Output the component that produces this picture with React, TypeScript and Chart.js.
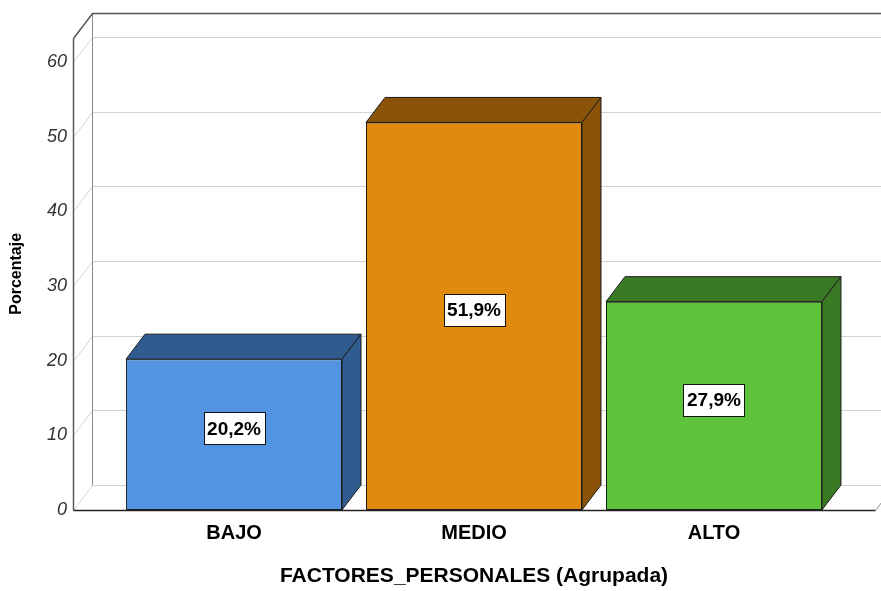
import React, { useEffect, useRef } from 'react';
import { Chart, registerables } from 'chart.js';

Chart.register(...registerables);

const categories = ['BAJO', 'MEDIO', 'ALTO'];
const percentages = [20.2, 51.9, 27.9];
const valueLabels = ['20,2%', '51,9%', '27,9%'];
const yTicks = [0, 10, 20, 30, 40, 50, 60];
const frontColors = ['#5294E2', '#E08A0E', '#5EC23A'];
const sideColors = ['#2F5B8F', '#8B5307', '#3A7A24'];
const xTitle = 'FACTORES_PERSONALES (Agrupada)';
const yTitle = 'Porcentaje';

const DX = 19;
const DY = -25;
const FONT = '"Liberation Sans", Arial, sans-serif';

const threeD = {
  id: 'threeD',
  beforeDatasetsDraw(chart: any) {
    const { ctx, chartArea } = chart;
    const { left, right, top, bottom } = chartArea;
    const y = chart.scales.y;
    const L = Math.round(left) + 0.5;
    const R = Math.round(right) + 0.5;
    const T = Math.round(top) + 0.5;
    const B = Math.round(bottom) + 0.5;
    ctx.save();
    ctx.lineWidth = 1;
    ctx.strokeStyle = '#d2d2d2';
    yTicks.forEach((v) => {
      const py = Math.round(y.getPixelForValue(v)) + 0.5;
      ctx.beginPath();
      ctx.moveTo(L, py);
      ctx.lineTo(L + DX, py + DY);
      ctx.lineTo(R + DX, py + DY);
      ctx.stroke();
    });
    ctx.strokeStyle = '#8a8a8a';
    ctx.beginPath();
    ctx.moveTo(R, B);
    ctx.lineTo(R + DX, B + DY);
    ctx.stroke();
    ctx.beginPath();
    ctx.moveTo(L + DX, T + DY);
    ctx.lineTo(L + DX, B + DY);
    ctx.stroke();
    ctx.strokeStyle = '#555555';
    ctx.lineWidth = 1.5;
    ctx.beginPath();
    ctx.moveTo(L, T);
    ctx.lineTo(L + DX, T + DY);
    ctx.lineTo(R + DX + 40, T + DY);
    ctx.stroke();
    ctx.strokeStyle = '#5a5a5a';
    ctx.beginPath();
    ctx.moveTo(L, T);
    ctx.lineTo(L, B);
    ctx.stroke();
    ctx.strokeStyle = '#222222';
    ctx.beginPath();
    ctx.moveTo(L, B);
    ctx.lineTo(R, B);
    ctx.stroke();
    ctx.restore();
  },
  afterDatasetsDraw(chart: any) {
    const { ctx } = chart;
    const meta = chart.getDatasetMeta(0);
    ctx.save();
    meta.data.forEach((el: any, i: number) => {
      const { x, y, base, width } = el.getProps(['x', 'y', 'base', 'width'], true);
      const l = x - width / 2;
      const r = x + width / 2;
      ctx.lineWidth = 1;
      ctx.strokeStyle = '#1a1a1a';
      ctx.fillStyle = sideColors[i];
      ctx.beginPath();
      ctx.moveTo(l, y);
      ctx.lineTo(l + DX, y + DY);
      ctx.lineTo(r + DX, y + DY);
      ctx.lineTo(r, y);
      ctx.closePath();
      ctx.fill();
      ctx.stroke();
      ctx.beginPath();
      ctx.moveTo(r, y);
      ctx.lineTo(r + DX, y + DY);
      ctx.lineTo(r + DX, base + DY);
      ctx.lineTo(r, base);
      ctx.closePath();
      ctx.fill();
      ctx.stroke();
      ctx.font = `bold 19px ${FONT}`;
      const text = valueLabels[i];
      const tw = ctx.measureText(text).width;
      const bw = Math.round(tw + 7);
      const bh = 32;
      const cx = x;
      const cy = (y + base) / 2 + DY / 4;
      const bx = Math.round(cx - bw / 2) + 0.5;
      const by = Math.round(cy - bh / 2) + 0.5;
      ctx.fillStyle = '#ffffff';
      ctx.fillRect(bx, by, bw, bh);
      ctx.strokeStyle = '#111111';
      ctx.strokeRect(bx, by, bw, bh);
      ctx.fillStyle = '#000000';
      ctx.textAlign = 'center';
      ctx.textBaseline = 'middle';
      ctx.fillText(text, cx, cy + 1);
    });
    ctx.restore();
  },
};

export default function App() {
  const ref = useRef<HTMLCanvasElement | null>(null);
  useEffect(() => {
    if (!ref.current) return;
    const chart = new Chart(ref.current, {
      type: 'bar',
      data: {
        datasets: [
          {
            data: categories.map((c, i) => ({ x: i, y: percentages[i] })),
            backgroundColor: frontColors,
            borderColor: '#1a1a1a',
            borderWidth: 1,
            borderSkipped: false,
            barPercentage: 0.9,
            categoryPercentage: 1,
          } as any,
        ],
      },
      options: {
        animation: false,
        responsive: false,
        devicePixelRatio: 1,
        layout: { padding: { left: 0, right: 6, top: 37.7, bottom: 0 } },
        plugins: { legend: { display: false }, tooltip: { enabled: false } },
        scales: {
          x: {
            type: 'linear',
            offset: false,
            min: -0.671,
            max: 2.671,
            grid: { display: false, drawTicks: false, offset: false },
            border: { display: false },
            afterBuildTicks: (s: any) => {
              s.ticks = categories.map((_, i) => ({ value: i }));
            },
            afterFit: (s: any) => {
              s.height = 81;
            },
            ticks: {
              padding: 11,
              autoSkip: false,
              maxRotation: 0,
              color: '#000',
              font: { family: FONT, size: 20, weight: 'bold' },
              callback: (v: any) => categories[v] ?? '',
            },
            title: {
              display: true,
              text: xTitle,
              color: '#000',
              font: { family: FONT, size: 21, weight: 'bold' },
              padding: { top: 0, bottom: 2 },
            },
          },
          y: {
            min: 0,
            max: 63.25,
            grid: { display: false, drawTicks: false },
            border: { display: false },
            afterBuildTicks: (s: any) => {
              s.ticks = yTicks.map((v) => ({ value: v }));
            },
            afterFit: (s: any) => {
              s.width = 73;
            },
            ticks: {
              padding: 6,
              color: '#333',
              font: { family: FONT, size: 18, style: 'italic' },
            },
            title: {
              display: true,
              text: yTitle,
              color: '#000',
              font: { family: FONT, size: 16, weight: 'bold' },
              padding: { top: 7, bottom: 0 },
            },
          },
        },
      } as any,
      plugins: [threeD],
    });
    return () => chart.destroy();
  }, []);
  return (
    <div style={{ position: 'absolute', left: 0, top: 0, width: 881, height: 591, background: '#fff' }}>
      <canvas ref={ref} width={881} height={591} />
    </div>
  );
}
